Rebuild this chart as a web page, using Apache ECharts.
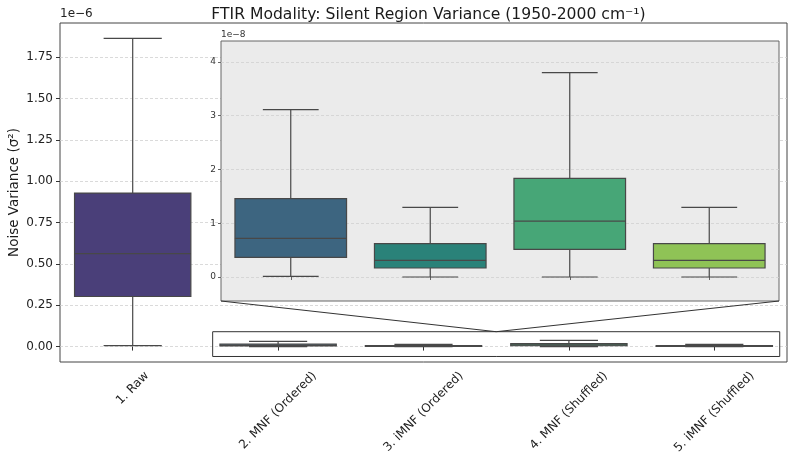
<!DOCTYPE html>
<html>
<head>
<meta charset="utf-8">
<script src="https://cdn.jsdelivr.net/npm/echarts@6/dist/echarts.min.js"></script>
<style>
  html, body { margin: 0; padding: 0; background: #fff; }
  #chart { width: 794px; height: 452px; }
</style>
</head>
<body>
<div id="chart"></div>
<script>
// methods on the x axis
const categories = ['1. Raw', '2. MNF (Ordered)', '3. iMNF (Ordered)', '4. MNF (Shuffled)', '5. iMNF (Shuffled)'];
// box stats: [lower whisker, Q1, median, Q3, upper whisker]
const rawStats = [0.006e-6, 0.303e-6, 0.562e-6, 0.929e-6, 1.865e-6];
const mnfOrderedStats = [0.01e-8, 0.366e-8, 0.719e-8, 1.455e-8, 3.11e-8];
const imnfOrderedStats = [0.0, 0.167e-8, 0.31e-8, 0.62e-8, 1.295e-8];
const mnfShuffledStats = [0.0, 0.514e-8, 1.04e-8, 1.834e-8, 3.80e-8];
const imnfShuffledStats = [0.0, 0.167e-8, 0.31e-8, 0.62e-8, 1.295e-8];
// tick labels (in units of the axis offset)
const mainTicks = [0, 0.25, 0.5, 0.75, 1.0, 1.25, 1.5, 1.75]; // x 1e-6
const insetTicks = [0, 1, 2, 3, 4];                             // x 1e-8
// region of the main axes that the inset magnifies
const zoomRange = [-0.06e-6, 0.09e-6];

const colors = ['#4a3f79', '#3d6580', '#2a8279', '#47a677', '#8fc356'];
const lineColor = '#484848';
const allStats = [rawStats, mnfOrderedStats, imnfOrderedStats, mnfShuffledStats, imnfShuffledStats];

const mainGrid = { left: 60, top: 23, width: 727, height: 339 };
const insetGrid = { left: 221, top: 41, width: 558, height: 260 };

function boxItem(palette) {
  return function (params, api) {
    const i = api.value(0);
    const band = api.size([1, 0])[0];
    const half = band * 0.4;
    const cx = api.coord([i, 0])[0];
    const y = k => api.coord([i, api.value(k)])[1];
    const lo = y(1), q1 = y(2), med = y(3), q3 = y(4), hi = y(5);
    const ls = { stroke: lineColor, lineWidth: 1.2 };
    return {
      type: 'group',
      children: [
        { type: 'line', shape: { x1: cx, y1: q1, x2: cx, y2: lo }, style: ls },
        { type: 'line', shape: { x1: cx, y1: q3, x2: cx, y2: hi }, style: ls },
        { type: 'line', shape: { x1: cx - half / 2, y1: lo, x2: cx + half / 2, y2: lo }, style: ls },
        { type: 'line', shape: { x1: cx - half / 2, y1: hi, x2: cx + half / 2, y2: hi }, style: ls },
        { type: 'rect', shape: { x: cx - half, y: q3, width: 2 * half, height: q1 - q3 },
          style: { fill: palette[params.dataIndex], stroke: lineColor, lineWidth: 1.2 } },
        { type: 'line', shape: { x1: cx - half, y1: med, x2: cx + half, y2: med }, style: ls }
      ]
    };
  };
}

const chart = echarts.init(document.getElementById('chart'));

const splitStyle = { show: true, lineStyle: { color: '#d0d0d0', type: [3, 2], width: 0.8 } };

chart.setOption({
  animation: false,
  title: {
    text: 'FTIR Modality: Silent Region Variance (1950-2000 cm⁻¹)',
    left: mainGrid.left + mainGrid.width / 2,
    textAlign: 'center',
    top: 2,
    textStyle: { fontFamily: 'DejaVu Sans', fontSize: 15.6, fontWeight: 'normal', color: '#1a1a1a' }
  },
  grid: [
    Object.assign({ show: true, outerBoundsMode: 'none', containLabel: false,
      backgroundColor: '#fff', borderColor: '#444', borderWidth: 1 }, mainGrid),
    Object.assign({ show: true, outerBoundsMode: 'none', containLabel: false,
      backgroundColor: '#ebebeb', borderColor: '#666', borderWidth: 1, z: 4 }, insetGrid)
  ],
  xAxis: [
    {
      type: 'category', gridIndex: 0, data: categories,
      axisLine: { show: false },
      axisTick: { show: true, alignWithLabel: true, length: 4, lineStyle: { color: '#333' } },
      axisLabel: { show: false }
    },
    {
      type: 'category', gridIndex: 1, data: categories.slice(1), z: 5,
      axisLine: { show: false },
      axisTick: { show: true, alignWithLabel: true, length: 3, lineStyle: { color: '#666' } },
      axisLabel: { show: false }
    }
  ],
  yAxis: [
    {
      type: 'value', gridIndex: 0, min: -0.0933e-6, max: 1.958e-6,
      name: 'Noise Variance (σ²)', nameLocation: 'middle', nameGap: 39, nameMoveOverlap: false,
      nameTextStyle: { fontFamily: 'DejaVu Sans', fontSize: 13.5, color: '#1a1a1a' },
      axisLine: { show: false },
      axisTick: { show: true, length: 4, lineStyle: { color: '#333' }, customValues: mainTicks.map(v => v * 1e-6) },
      axisLabel: {
        customValues: mainTicks.map(v => v * 1e-6), margin: 7,
        fontFamily: 'DejaVu Sans', fontSize: 12, color: '#222',
        formatter: v => (v / 1e-6).toFixed(2)
      },
      splitLine: splitStyle
    },
    {
      type: 'value', gridIndex: 1, min: -0.446e-8, max: 4.386e-8, z: 5,
      axisLine: { show: false },
      axisTick: { show: true, length: 3, lineStyle: { color: '#666' }, customValues: insetTicks.map(v => v * 1e-8) },
      axisLabel: {
        customValues: insetTicks.map(v => v * 1e-8), margin: 5,
        fontFamily: 'DejaVu Sans', fontSize: 9, color: '#333',
        formatter: v => String(Math.round(v / 1e-8))
      },
      splitLine: splitStyle
    }
  ],
  series: [
    {
      type: 'custom', xAxisIndex: 0, yAxisIndex: 0,
      encode: { x: 0, y: [1, 2, 3, 4, 5] },
      data: categories.map((c, i) => [c].concat(allStats[i])),
      renderItem: boxItem(colors)
    },
    {
      type: 'custom', xAxisIndex: 1, yAxisIndex: 1, z: 6,
      encode: { x: 0, y: [1, 2, 3, 4, 5] },
      data: categories.slice(1).map((c, i) => [c].concat(allStats[i + 1])),
      renderItem: boxItem(colors.slice(1))
    }
  ]
});

// overlay: offset labels, rotated x labels, zoom box and connectors
const finder = { xAxisIndex: 0, yAxisIndex: 0 };
const c1 = chart.convertToPixel(finder, [1, 0]);
const c4 = chart.convertToPixel(finder, [4, 0]);
const band = (c4[0] - c1[0]) / 3;
const zx0 = c1[0] - 0.45 * band;
const zx1 = c4[0] + 0.45 * band;
const zyTop = chart.convertToPixel(finder, [1, zoomRange[1]])[1];
const zyBot = chart.convertToPixel(finder, [1, zoomRange[0]])[1];
const zcx = (zx0 + zx1) / 2;

const ctx = document.createElement('canvas').getContext('2d');
const labelFont = '12px "DejaVu Sans"';
ctx.font = labelFont;
const axisBottom = mainGrid.top + mainGrid.height;
const k = Math.SQRT1_2 / 2;
const labelEls = categories.map((c, i) => {
  const L = ctx.measureText(c).width;
  const H = 14;
  const tx = chart.convertToPixel(finder, [i, 0])[0];
  return {
    type: 'text',
    x: tx + k * L, y: axisBottom + 7 + k * H,
    rotation: Math.PI / 4,
    style: { text: c, font: labelFont, fill: '#222', textAlign: 'right', textVerticalAlign: 'middle' }
  };
});

const lineStyle = { stroke: '#333', lineWidth: 1, fill: null };
chart.setOption({
  graphic: [
    { type: 'text', x: mainGrid.left, y: mainGrid.top - 3,
      style: { text: '1e−6', font: '12px "DejaVu Sans"', fill: '#222', textVerticalAlign: 'bottom' } },
    { type: 'text', x: insetGrid.left, y: insetGrid.top - 2, z: 10,
      style: { text: '1e−8', font: '9px "DejaVu Sans"', fill: '#333', textVerticalAlign: 'bottom' } },
    { type: 'rect', z: 10, shape: { x: zx0, y: zyTop, width: zx1 - zx0, height: zyBot - zyTop }, style: lineStyle },
    { type: 'line', z: 10, shape: { x1: insetGrid.left, y1: insetGrid.top + insetGrid.height, x2: zcx, y2: zyTop }, style: lineStyle },
    { type: 'line', z: 10, shape: { x1: insetGrid.left + insetGrid.width, y1: insetGrid.top + insetGrid.height, x2: zcx, y2: zyTop }, style: lineStyle }
  ].concat(labelEls)
});
</script>
</body>
</html>
